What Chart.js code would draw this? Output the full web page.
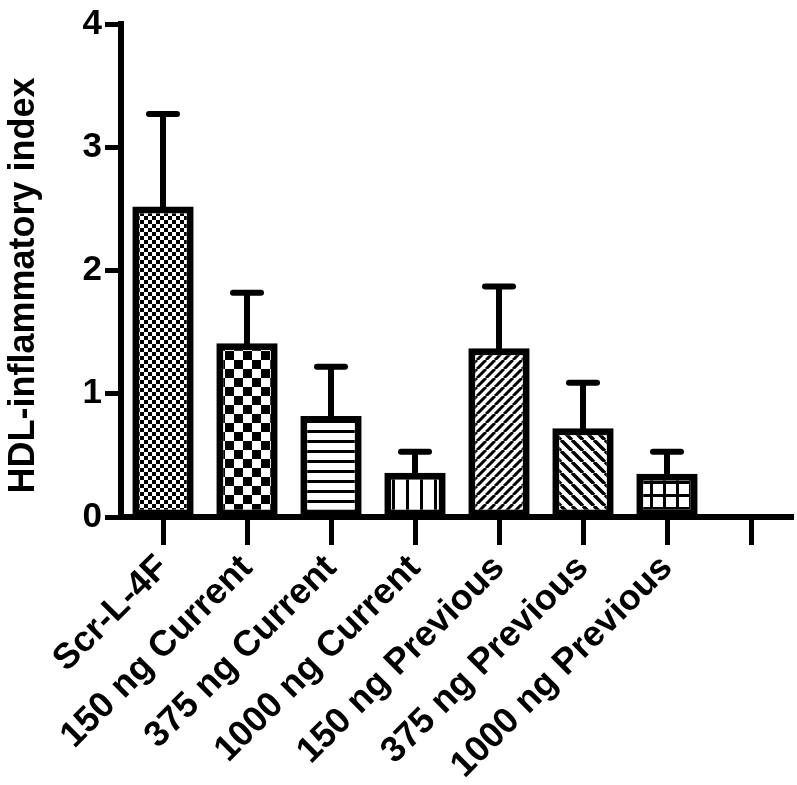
<!DOCTYPE html>
<html>
<head>
<meta charset="utf-8">
<script src="https://cdn.jsdelivr.net/npm/chart.js@4.4.1/dist/chart.umd.min.js"></script>
<style>
  html, body { margin: 0; padding: 0; background: #fff; }
  #wrap { width: 797px; height: 785px; position: relative; }
</style>
</head>
<body>
<div id="wrap"><canvas id="barchart"></canvas></div>
<script>
var categories = ['Scr-L-4F', '150 ng Current', '375 ng Current', '1000 ng Current',
                  '150 ng Previous', '375 ng Previous', '1000 ng Previous', ''];
var means = [2.52, 1.41, 0.82, 0.36, 1.37, 0.72, 0.35, null];
var upperErr = [3.27, 1.82, 1.22, 0.53, 1.87, 1.09, 0.53, null];
var yTicks = [0, 1, 2, 3, 4];

var FONT = "'Liberation Sans', Arial, Helvetica, sans-serif";

// little tiles for the hatch fills
function tile(size, draw) {
    var c = document.createElement('canvas');
    c.width = size; c.height = size;
    var g = c.getContext('2d');
    g.fillStyle = '#fff';
    g.fillRect(0, 0, size, size);
    g.fillStyle = '#000';
    g.strokeStyle = '#000';
    draw(g, size);
    return g.createPattern(c, 'repeat');
}
function checker(cell) {
    return tile(cell * 2, function (g) {
        g.fillRect(0, 0, cell, cell);
        g.fillRect(cell, cell, cell, cell);
    });
}
function hLines(p, w) {
    return tile(p, function (g) { g.fillRect(0, 0, p, w); });
}
function vLines(p, w) {
    return tile(p, function (g) { g.fillRect(0, 0, w, p); });
}
function grid(p, w) {
    return tile(p, function (g) { g.fillRect(0, 0, p, w); g.fillRect(0, 0, w, p); });
}
function diag(p, w, up) {
    return tile(p, function (g) {
        g.lineWidth = w;
        g.beginPath();
        for (var k = -1; k <= 1; k++) {
            if (up) { g.moveTo(k * p, p); g.lineTo(k * p + p, 0); }
            else { g.moveTo(k * p, 0); g.lineTo(k * p + p, p); }
        }
        g.stroke();
    });
}

var fills = [
    checker(4),
    checker(9),
    hLines(10, 3),
    vLines(14, 3),
    diag(9, 3, true),
    diag(11, 3.5, false),
    grid(13, 3),
    '#fff'
];

var errorBars = {
    id: 'errorBars',
    afterDatasetsDraw: function (chart) {
        var ctx = chart.ctx;
        var meta = chart.getDatasetMeta(0);
        var ys = chart.scales.y;
        ctx.save();
        ctx.strokeStyle = '#000';
        ctx.lineWidth = 6;
        ctx.lineCap = 'round';
        meta.data.forEach(function (bar, i) {
            if (upperErr[i] == null || means[i] == null) return;
            var yTop = ys.getPixelForValue(upperErr[i]);
            ctx.beginPath();
            ctx.moveTo(bar.x, bar.y);
            ctx.lineTo(bar.x, yTop);
            ctx.moveTo(bar.x - 14, yTop);
            ctx.lineTo(bar.x + 14, yTop);
            ctx.stroke();
        });
        ctx.restore();
    }
};

new Chart(document.getElementById('barchart'), {
    type: 'bar',
    data: {
        labels: categories,
        datasets: [{
            data: means,
            backgroundColor: fills,
            borderColor: '#000',
            borderWidth: 7,
            borderSkipped: false,
            categoryPercentage: 1,
            barPercentage: 0.73
        }]
    },
    options: {
        responsive: true,
        maintainAspectRatio: false,
        animation: false,
        layout: { padding: { top: 17, right: 4, left: 0, bottom: 0 } },
        plugins: {
            legend: { display: false },
            tooltip: { enabled: false }
        },
        scales: {
            x: {
                ticks: {
                    color: '#000',
                    autoSkip: false,
                    maxRotation: 45,
                    minRotation: 45,
                    padding: 2,
                    font: { family: FONT, size: 36, weight: 'bold' }
                },
                grid: {
                    offset: false,
                    drawOnChartArea: false,
                    drawTicks: true,
                    tickLength: 28,
                    tickWidth: 5,
                    tickColor: '#000'
                },
                border: { display: true, width: 6, color: '#000' },
                afterFit: function (s) { s.height = 268; }
            },
            y: {
                min: 0,
                max: 4,
                afterBuildTicks: function (s) {
                    s.ticks = yTicks.map(function (v) { return { value: v }; });
                },
                ticks: {
                    color: '#000',
                    padding: 3,
                    font: { family: FONT, size: 35, weight: 'bold' }
                },
                grid: {
                    drawOnChartArea: false,
                    drawTicks: true,
                    tickLength: 16,
                    tickWidth: 5,
                    tickColor: '#000'
                },
                border: { display: true, width: 6, color: '#000' },
                title: {
                    display: true,
                    text: 'HDL-inflammatory index   ',
                    color: '#000',
                    padding: { top: 2, bottom: 0 },
                    font: { family: FONT, size: 36, weight: 'bold' }
                },
                afterFit: function (s) { s.width = 121; }
            }
        }
    },
    plugins: [errorBars]
});
</script>
</body>
</html>
